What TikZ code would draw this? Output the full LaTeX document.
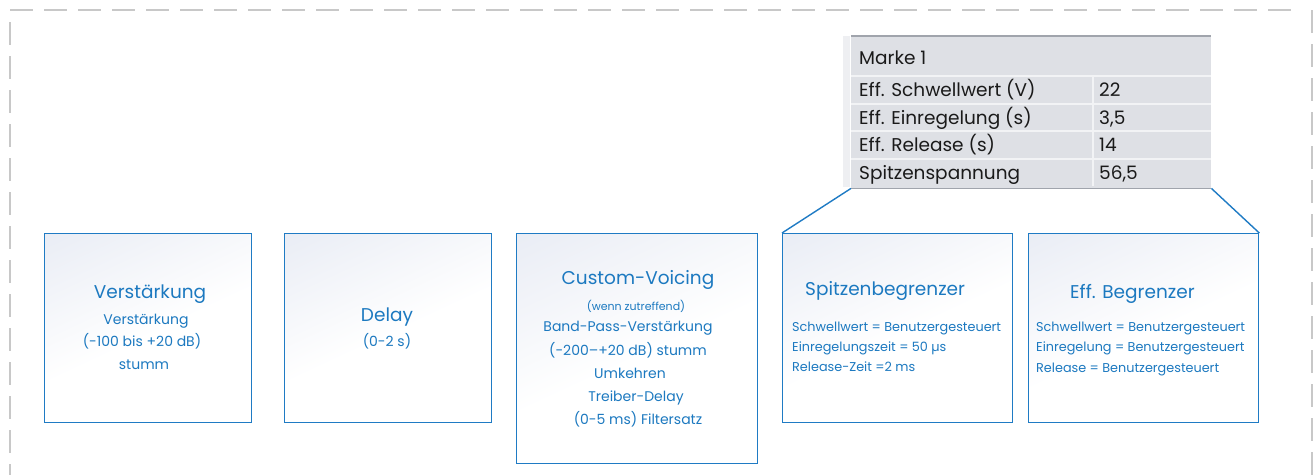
\documentclass[tikz,border=0pt]{standalone}
\usepackage{fontspec}
\setmainfont{Poppins}
\definecolor{bblue}{HTML}{1F7BC4}
\definecolor{tblue}{HTML}{1C79C0}
\definecolor{shadec}{HTML}{DFE4F0}
\definecolor{dashc}{HTML}{C8C8C8}
\definecolor{tabbg}{HTML}{DEE0E5}
\definecolor{tabline}{HTML}{A0A4AC}
\definecolor{tabsep}{HTML}{F2F3F5}
\definecolor{tabtext}{HTML}{1A1A1A}
\pgfdeclareverticalshading{boxsh}{100bp}{color(0bp)=(white); color(48bp)=(white); color(100bp)=(shadec)}
\begin{document}
\begin{tikzpicture}[x=1pt,y=-1pt,
  blockbox/.style={draw=bblue, line width=1.3pt, shading=boxsh, shading angle=25, anchor=north west, inner sep=0pt},
  txt/.style={inner sep=0pt, text height=0.72em, text depth=0.22em, yshift=-0.17em},
  ttl/.style={text=tblue, font=\fontsize{18.5}{22}\selectfont, txt},
  sub/.style={text=tblue, font=\fontsize{14}{17}\selectfont, txt},
  small/.style={text=tblue, font=\fontsize{11}{13}\selectfont, txt},
  prm/.style={text=tblue, font=\fontsize{12.8}{15}\selectfont, txt, anchor=west},
  cell/.style={text=tabtext, font=\fontsize{18.5}{22}\selectfont, txt, anchor=west},
  dashline/.style={draw=dashc, line width=2.5pt, dash pattern=on 23pt off 11pt},
  conn/.style={draw=bblue, line width=1.4pt}
]
\useasboundingbox (0,0) rectangle (1315,475);
% dashed frame
\coordinate (ftl) at (10,10);
\coordinate (ftr) at (1302,10);
\coordinate (fl1) at (10,22);
\coordinate (fl2) at (10,475);
\coordinate (fr1) at (1312,10);
\coordinate (fr2) at (1312,475);
\draw[dashline] (ftl) -- (ftr);
\draw[dashline] (fl1) -- (fl2);
\draw[dashline] (fr1) -- (fr2);

% blocks
\node[blockbox, minimum width=207pt, minimum height=189pt] (b1) at (44,233) {};
\node[blockbox, minimum width=207pt, minimum height=189pt] (b2) at (284,233) {};
\node[blockbox, minimum width=241pt, minimum height=230pt] (b3) at (516,233) {};
\node[blockbox, minimum width=230pt, minimum height=189pt] (b4) at (782,233) {};
\node[blockbox, minimum width=230pt, minimum height=189pt] (b5) at (1028,233) {};

% block 1
\node[ttl] (t1) at (150,294) {Verstärkung};
\node[sub] (t1a) at (146,320) {Verstärkung};
\node[sub] (t1b) at (142,342) {(-100 bis +20 dB)};
\node[sub] (t1c) at (144,365) {stumm};
% block 2
\node[ttl] (t2) at (387,317) {Delay};
\node[sub] (t2a) at (387,342) {(0-2 s)};
% block 3
\node[ttl] (t3) at (638,280) {Custom-Voicing};
\node[small] (t3a) at (636,306) {(wenn zutreffend)};
\node[sub] (t3b) at (628,327) {Band-Pass-Verstärkung};
\node[sub] (t3c) at (628,351) {(-200–+20 dB) stumm};
\node[sub] (t3d) at (630,374) {Umkehren};
\node[sub] (t3e) at (636,397) {Treiber-Delay};
\node[sub] (t3f) at (638,420) {(0-5 ms) Filtersatz};
% block 4
\node[ttl, anchor=west] (t4) at (805,291) {Spitzenbegrenzer};
\node[prm] (t4a) at (792,327) {Schwellwert = Benutzergesteuert};
\node[prm] (t4b) at (792,347) {Einregelungszeit = 50 µs};
\node[prm] (t4c) at (792,367) {Release-Zeit =2 ms};
% block 5
\node[ttl, anchor=west] (t5) at (1070,294) {Eff. Begrenzer};
\node[prm] (t5a) at (1036,327) {Schwellwert = Benutzergesteuert};
\node[prm] (t5b) at (1036,347) {Einregelung = Benutzergesteuert};
\node[prm] (t5c) at (1036,368) {Release = Benutzergesteuert};

% table
\fill[fill=tabsep!80!tabbg] (843,36) rectangle (850,187);
\node[fill=tabbg, anchor=north west, inner sep=0pt, minimum width=360pt, minimum height=152pt] (tab) at (851,36) {};
\draw[tabline, line width=1.8pt] (tab.north west) -- (tab.north east);
\draw[tabline, line width=1.8pt] (tab.south west) -- (tab.south east);
\draw[tabsep, line width=1.5pt] (851,76) -- (1211,76);
\draw[tabsep, line width=1.5pt] (851,104) -- (1211,104);
\draw[tabsep, line width=1.5pt] (851,131) -- (1211,131);
\draw[tabsep, line width=1.5pt] (851,159) -- (1211,159);
\draw[tabsep, line width=1.5pt] (1093,76) -- (1093,186);
\node[cell] (m1) at (859,60) {Marke 1};
\node[cell] (r1) at (859,92) {Eff. Schwellwert (V)};
\node[cell] (r2) at (859,120) {Eff. Einregelung (s)};
\node[cell] (r3) at (859,147) {Eff. Release (s)};
\node[cell] (r4) at (859,175) {Spitzenspannung};
\node[cell] (v1) at (1099,92) {22};
\node[cell] (v2) at (1099,120) {3,5};
\node[cell] (v3) at (1099,147) {14};
\node[cell] (v4) at (1099,175) {56,5};

% connectors
\draw[conn] (tab.south west) -- (b4.north west);
\draw[conn] (tab.south east) -- (b5.north east);
\end{tikzpicture}
\end{document}
